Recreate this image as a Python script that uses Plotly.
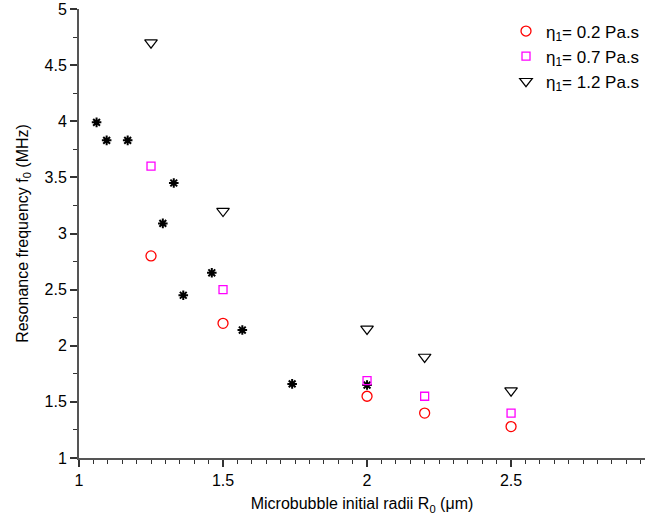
import plotly.graph_objects as go

# data
star_x = [1.061, 1.096, 1.169, 1.329, 1.291, 1.362, 1.461, 1.567, 1.74, 2.0]
star_y = [3.99, 3.83, 3.83, 3.45, 3.09, 2.45, 2.65, 2.14, 1.66, 1.65]
r0 = [1.25, 1.5, 2.0, 2.2, 2.5]
f_02 = [2.8, 2.2, 1.55, 1.40, 1.28]
f_07 = [3.6, 2.5, 1.69, 1.55, 1.40]
f_12 = [4.7, 3.2, 2.15, 1.90, 1.60]
xticks = [1, 1.5, 2, 2.5]
yticks = [1, 1.5, 2, 2.5, 3, 3.5, 4, 4.5, 5]

FONT = "Liberation Sans, Arial, sans-serif"
fig = go.Figure()
fig.add_trace(go.Scatter(x=star_x, y=star_y, mode="markers", showlegend=False,
                         marker=dict(symbol="asterisk-open", size=8, color="black",
                                     line=dict(color="black", width=2))))
fig.add_trace(go.Scatter(x=r0, y=f_02, mode="markers", name="η<sub>1</sub>= 0.2 Pa.s",
                         marker=dict(symbol="circle-open", size=10, color="red",
                                     line=dict(color="red", width=1.3))))
fig.add_trace(go.Scatter(x=r0, y=f_07, mode="markers", name="η<sub>1</sub>= 0.7 Pa.s",
                         marker=dict(symbol="square-open", size=8, color="#ff00ff",
                                     line=dict(color="#ff00ff", width=1.3))))
fig.add_trace(go.Scatter(x=r0, y=f_12, mode="markers", name="η<sub>1</sub>= 1.2 Pa.s",
                         marker=dict(symbol="triangle-down-open", size=11, color="black",
                                     line=dict(color="black", width=1.2))))

axis_common = dict(showgrid=False, zeroline=False, showline=True, linecolor="#555",
                   linewidth=2, ticks="outside", ticklen=7, tickwidth=1.5, tickcolor="#333",
                   tickfont=dict(family=FONT, size=16, color="black"))
fig.update_xaxes(range=[1, 2.965], tickvals=xticks, ticktext=[str(v) for v in xticks],
                 minor=dict(dtick=0.05, ticks="outside", ticklen=4, tickcolor="#333", tickwidth=1),
                 title=dict(text="Microbubble initial radii R<sub>0</sub> (μm)",
                            font=dict(family=FONT, size=16, color="black"), standoff=10),
                 **axis_common)
fig.update_yaxes(range=[1, 5], tickvals=yticks, ticktext=[f"{v:g}" for v in yticks],
                 minor=dict(dtick=0.25, ticks="outside", ticklen=4, tickcolor="#333", tickwidth=1),
                 title=dict(text="Resonance frequency f<sub>0</sub> (MHz)",
                            font=dict(family=FONT, size=16, color="black"), standoff=12),
                 **axis_common)
fig.update_layout(width=645, height=522, margin=dict(l=79, r=0, t=9, b=64),
                  plot_bgcolor="white", paper_bgcolor="white",
                  legend=dict(x=1.0, y=0.99, xanchor="right", yanchor="top",
                              font=dict(family=FONT, size=17, color="black"),
                              itemwidth=30, tracegroupgap=0, bgcolor="rgba(0,0,0,0)"))
fig.write_html("out.html")
